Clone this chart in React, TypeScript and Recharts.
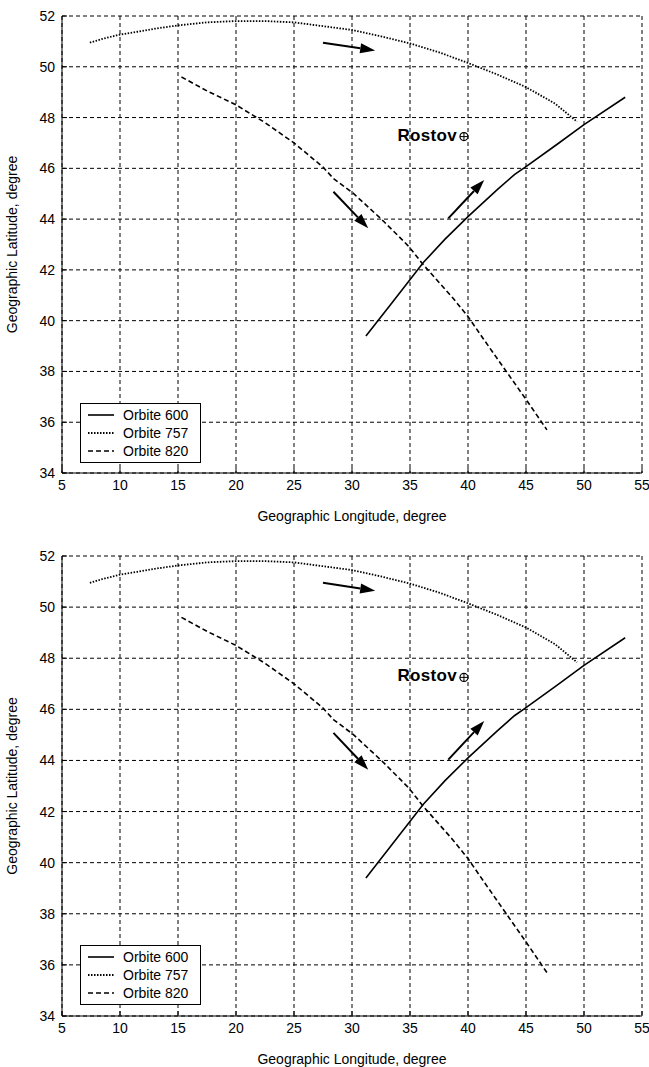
import { CartesianGrid, Legend, Line, LineChart, ReferenceDot, ReferenceLine, XAxis, YAxis } from 'recharts'

const LON_TICKS = [5, 10, 15, 20, 25, 30, 35, 40, 45, 50, 55]
const LAT_TICKS = [34, 36, 38, 40, 42, 44, 46, 48, 50, 52]

// Orbite 600 (solid)
const orbit600Lon = [31.2, 33.3, 36.15, 38, 40, 42.5, 44, 45, 47.6, 50, 53.55]
const orbit600Lat = [39.4, 40.62, 42.29, 43.2, 44.1, 45.15, 45.75, 46.07, 46.92, 47.72, 48.8]

// Orbite 757 (dotted)
const orbit757Lon = [7.4, 8.5, 10, 11.5, 13, 15, 17.5, 20, 22.5, 25, 27.5, 30, 32.5, 35, 37.5, 40, 42.5, 45, 47.5, 49.4]
const orbit757Lat = [50.95, 51.1, 51.27, 51.38, 51.5, 51.63, 51.75, 51.8, 51.8, 51.75, 51.6, 51.45, 51.2, 50.92, 50.57, 50.15, 49.7, 49.2, 48.55, 47.84]

// Orbite 820 (dashed)
const orbit820Lon = [15.3, 17.5, 20, 22.5, 25, 27.5, 28.4, 30.1, 32.6, 33.9, 34.9, 36.15, 38.7, 40, 41.3, 43.3, 45, 46.35, 46.8]
const orbit820Lat = [49.6, 49.05, 48.5, 47.8, 47.0, 46.05, 45.6, 45.02, 43.97, 43.38, 42.92, 42.2, 40.89, 40.16, 39.3, 38.0, 36.9, 36.0, 35.7]

const SERIES_NAMES = ['Orbite 600', 'Orbite 757', 'Orbite 820']

// direction arrows: [lonFrom, latFrom, lonTo, latTo]
const ARROWS = [
  [27.5, 50.95, 32.0, 50.64],
  [28.4, 45.08, 31.4, 43.64],
  [38.3, 44.03, 41.4, 45.54],
]

const CITY = { name: 'Rostov', lon: 39.65, lat: 47.25 }

const FONT = '"Liberation Sans", Arial, sans-serif'

const STYLES: Record<string, { width: number; dash?: string }> = {
  'Orbite 600': { width: 1.6 },
  'Orbite 757': { width: 1.8, dash: '1.5 1.5' },
  'Orbite 820': { width: 1.6, dash: '5 3' },
}

const zip = (lon: number[], lat: number[]) => lon.map((x, i) => ({ lon: x, lat: lat[i] }))

const series = [
  { name: SERIES_NAMES[0], data: zip(orbit600Lon, orbit600Lat) },
  { name: SERIES_NAMES[1], data: zip(orbit757Lon, orbit757Lat) },
  { name: SERIES_NAMES[2], data: zip(orbit820Lon, orbit820Lat) },
]

function Arrow(props: any) {
  const { x1, y1, x2, y2 } = props
  if (x1 == null || x2 == null) return null
  const ang = Math.atan2(y2 - y1, x2 - x1)
  const len = 15
  const half = 5
  const bx = x2 - len * Math.cos(ang)
  const by = y2 - len * Math.sin(ang)
  const px = -Math.sin(ang) * half
  const py = Math.cos(ang) * half
  return (
    <g>
      <line x1={x1} y1={y1} x2={bx} y2={by} stroke="#000" strokeWidth={2} />
      <polygon points={`${x2},${y2} ${bx + px},${by + py} ${bx - px},${by - py}`} fill="#000" />
    </g>
  )
}

function CityMark(props: any) {
  const { cx, cy } = props
  if (cx == null) return null
  return (
    <g>
      <text
        x={cx - 7}
        y={cy + 4}
        textAnchor="end"
        fontFamily={FONT}
        fontSize={17}
        fontWeight="bold"
        letterSpacing={0.3}
        fill="#000"
      >
        {CITY.name}
      </text>
      <circle cx={cx} cy={cy} r={4} fill="#fff" stroke="#000" strokeWidth={1.2} />
      <line x1={cx - 4} y1={cy} x2={cx + 4} y2={cy} stroke="#000" strokeWidth={1} />
      <line x1={cx} y1={cy - 4} x2={cx} y2={cy + 4} stroke="#000" strokeWidth={1} />
    </g>
  )
}

function LegendBox() {
  return (
    <div
      style={{
        border: '1px solid #000',
        background: '#fff',
        width: 119,
        padding: '2px 0 2px 0',
        fontFamily: FONT,
        fontSize: 14,
        color: '#000',
      }}
    >
      {SERIES_NAMES.map((name) => (
        <div key={name} style={{ display: 'flex', alignItems: 'center', height: 18 }}>
          <svg width={42} height={10} style={{ flexShrink: 0 }}>
            <line
              x1={7}
              y1={5}
              x2={33}
              y2={5}
              stroke="#000"
              strokeWidth={STYLES[name].width}
              strokeDasharray={STYLES[name].dash}
            />
          </svg>
          <span>{name}</span>
        </div>
      ))}
    </div>
  )
}

function OrbitChart({ height, bottom, legendTop }: { height: number; bottom: number; legendTop: number }) {
  const tick = { fill: '#000', fontSize: 14, fontFamily: FONT }
  return (
    <LineChart width={649} height={height} margin={{ top: 16, right: 7, bottom, left: 0 }}>
      <CartesianGrid stroke="#000" strokeDasharray="4 3" />
      <XAxis
        dataKey="lon"
        type="number"
        domain={[5, 55]}
        ticks={LON_TICKS}
        allowDataOverflow
        height={50}
        stroke="#000"
        tick={tick}
        tickSize={-5}
        tickMargin={12}
        label={{ value: 'Geographic Longitude, degree', position: 'insideBottom', offset: 2, fill: '#000', fontSize: 14, fontFamily: FONT }}
      />
      <XAxis
        xAxisId="top"
        orientation="top"
        dataKey="lon"
        type="number"
        domain={[5, 55]}
        ticks={LON_TICKS}
        height={0}
        stroke="#000"
        tick={false}
        tickSize={-5}
      />
      <YAxis
        type="number"
        domain={[34, 52]}
        ticks={LAT_TICKS}
        allowDataOverflow
        width={62}
        stroke="#000"
        tick={tick}
        tickSize={-5}
        tickMargin={12}
        label={{ value: 'Geographic Latitude, degree', angle: -90, position: 'insideLeft', offset: 12, fill: '#000', fontSize: 14, fontFamily: FONT, style: { textAnchor: 'middle' } }}
      />
      <YAxis
        yAxisId="right"
        orientation="right"
        type="number"
        domain={[34, 52]}
        ticks={LAT_TICKS}
        width={0}
        stroke="#000"
        tick={false}
        tickSize={-5}
      />
      {series.map((s) => (
        <Line
          key={s.name}
          name={s.name}
          data={s.data}
          dataKey="lat"
          type="linear"
          stroke="#000"
          strokeWidth={STYLES[s.name].width}
          strokeDasharray={STYLES[s.name].dash}
          dot={false}
          activeDot={false}
          isAnimationActive={false}
        />
      ))}
      {ARROWS.map((a, i) => (
        <ReferenceLine
          key={i}
          segment={[
            { x: a[0], y: a[1] },
            { x: a[2], y: a[3] },
          ]}
          shape={Arrow}
        />
      ))}
      <ReferenceDot x={CITY.lon} y={CITY.lat} shape={CityMark} />
      <Legend
        layout="horizontal"
        verticalAlign="middle"
        align="center"
        content={() => <LegendBox />}
        wrapperStyle={{ position: 'absolute', left: 80, top: legendTop, width: 'auto', height: 'auto' }}
      />
    </LineChart>
  )
}

export default function App() {
  return (
    <div style={{ position: 'absolute', left: 0, top: 0, width: 649, height: 1067, background: '#fff' }}>
      <div style={{ position: 'absolute', left: 0, top: 0 }}>
        <OrbitChart height={530} bottom={7} legendTop={403} />
      </div>
      <div style={{ position: 'absolute', left: 0, top: 540 }}>
        <OrbitChart height={527} bottom={1} legendTop={405} />
      </div>
    </div>
  )
}
